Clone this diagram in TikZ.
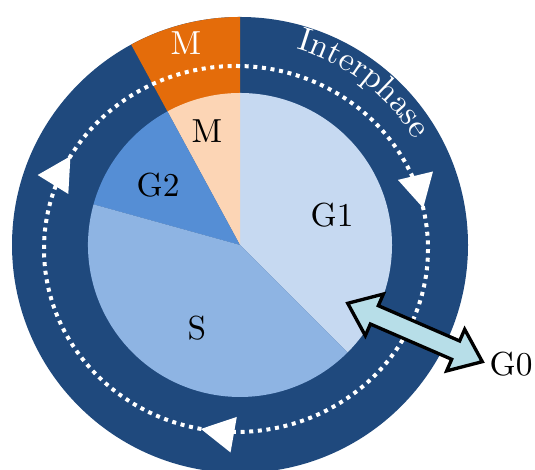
\documentclass[tikz,border=0pt]{standalone}
\usepackage{fontspec}
\usetikzlibrary{arrows.meta,positioning,calc,decorations.markings,decorations.text,shapes.arrows}
\definecolor{ringblue}{RGB}{31,73,125}
\definecolor{mdark}{RGB}{228,108,10}
\definecolor{mlight}{RGB}{252,213,181}
\definecolor{gonecol}{RGB}{198,217,241}
\definecolor{scol}{RGB}{142,180,227}
\definecolor{gtwocol}{RGB}{85,142,213}
\definecolor{gzerocol}{RGB}{183,222,232}

\begin{document}
\begin{tikzpicture}[x=0.3pt, y=0.3pt,
  lbl/.style={inner sep=0pt, font=\normalsize},
  cyc/.style={draw=white, line width=1.2pt, dash pattern=on 1.2pt off 1.4pt,
    postaction={decorate},
    decoration={markings,
      mark=at position 0.215 with {\arrow{Triangle[length=10pt,width=10.5pt]}},
      mark=at position 0.530 with {\arrow{Triangle[length=10pt,width=10.5pt]}},
      mark=at position 0.833 with {\arrow{Triangle[length=10pt,width=10.5pt]}}}},
  quiet/.style={double arrow, draw=black, line width=1pt, fill=gzerocol,
    minimum height=44pt, inner xsep=0pt, inner ysep=2.5pt, text height=0pt, text depth=0pt,
    double arrow head extend=3.8pt, double arrow tip angle=76}]
  \useasboundingbox (0,0) rectangle (535,470);
  \coordinate (c) at (240,225);
  \fill[ringblue] (c) circle[radius=228];
  \fill[mdark] (c) -- ++(90:228) arc[start angle=90, end angle=118.5, radius=228] -- cycle;
  \fill[gonecol] (c) -- ++(-45:152) arc[start angle=-45, end angle=90, radius=152] -- cycle;
  \fill[mlight] (c) -- ++(90:152) arc[start angle=90, end angle=118.5, radius=152] -- cycle;
  \fill[gtwocol] (c) -- ++(118.5:152) arc[start angle=118.5, end angle=164.5, radius=152] -- cycle;
  \fill[scol] (c) -- ++(164.5:152) arc[start angle=164.5, end angle=315, radius=152] -- cycle;
  \draw[cyc] (236,404) arc[start angle=90, end angle=-270, x radius=192, y radius=183];
  \path[decorate, decoration={text along path, text align=center,
    text={|\color{white}|Interphase}}]
    (c) ++(95:204) arc[start angle=95, end angle=10, radius=204];
  \node[lbl, white] (mout) at (186,427) {M};
  \node[lbl] (min) at (207,339) {M};
  \node[lbl] (gtwo) at (158,285) {G2};
  \node[lbl] (gone) at (332,255) {G1};
  \node[lbl] (s) at (197,142) {S};
  \node[lbl] (gzero) at (511,106) {G0};
  \node[quiet, rotate=-23.45] (exit) at (415,137.5) {};
\end{tikzpicture}
\end{document}
